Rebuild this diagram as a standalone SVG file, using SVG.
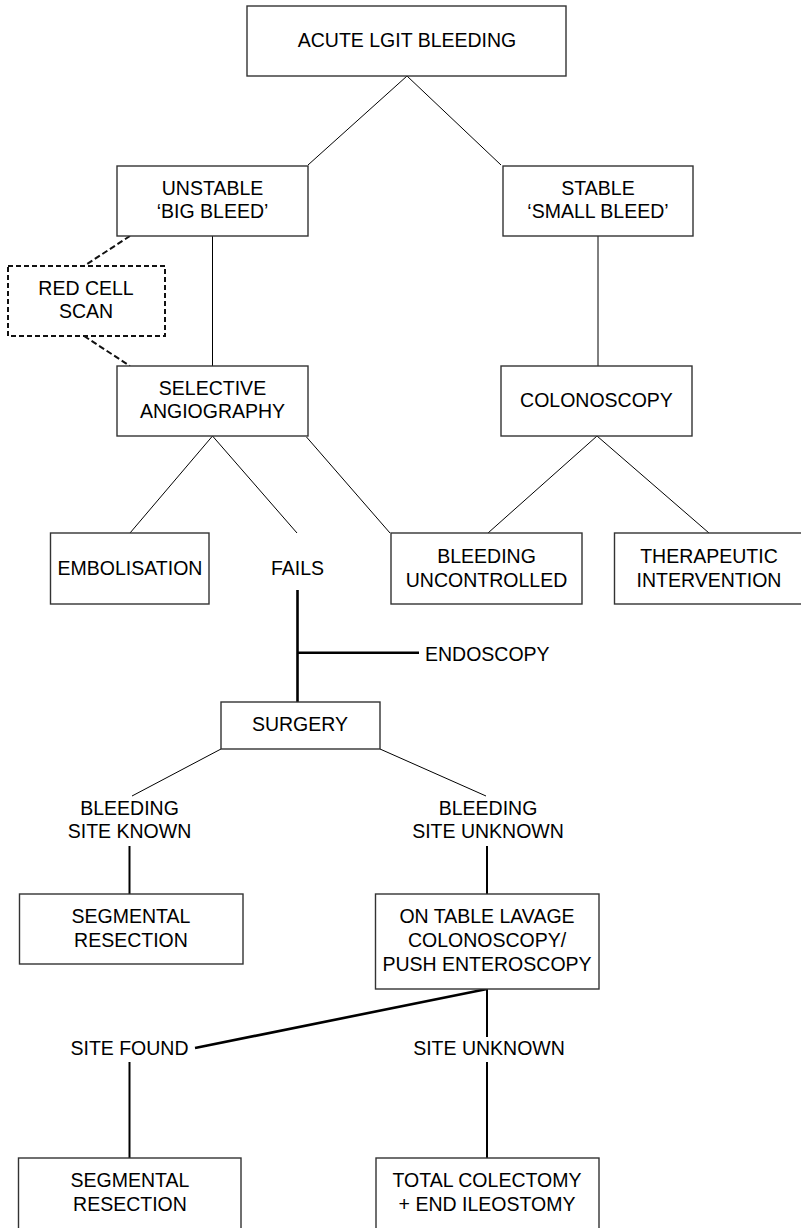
<svg xmlns="http://www.w3.org/2000/svg" width="801" height="1228" viewBox="0 0 801 1228">
<style>
.box{fill:#fff;stroke:#333;stroke-width:1.4}
.dbox{fill:#fff;stroke:#111;stroke-width:2;stroke-dasharray:5 3}
.t{font-family:"Liberation Sans",Arial,sans-serif;font-size:19.5px;fill:#000;text-anchor:middle}
.thin{stroke:#000;stroke-width:1;fill:none}
.mid{stroke:#000;stroke-width:2;fill:none}
.thick{stroke:#000;stroke-width:2.6;fill:none}
.dash{stroke:#111;stroke-width:2;stroke-dasharray:6 3;fill:none}
</style>
<rect width="801" height="1228" fill="#fff"/>
<g id="connectors">
<line class="thin" x1="407" y1="76" x2="308" y2="165"/>
<line class="thin" x1="407" y1="76" x2="501" y2="165"/>
<line class="thin" x1="212.5" y1="236" x2="212.5" y2="366"/>
<line class="thin" x1="598" y1="236" x2="598" y2="366"/>
<line class="dash" x1="130" y1="236" x2="84" y2="266"/>
<line class="dash" x1="84" y1="336" x2="130" y2="366"/>
<line class="thin" x1="212.5" y1="436" x2="130" y2="533"/>
<line class="thin" x1="212.5" y1="436" x2="297" y2="533"/>
<line class="thin" x1="306.5" y1="437" x2="390" y2="533"/>
<line class="thin" x1="597" y1="436" x2="488" y2="533"/>
<line class="thin" x1="597" y1="436" x2="709" y2="533"/>
<line class="thick" x1="297.5" y1="590" x2="297.5" y2="702"/>
<line class="thick" x1="297.5" y1="652.7" x2="419" y2="652.7"/>
<line class="thin" x1="221" y1="749" x2="132" y2="796"/>
<line class="thin" x1="380" y1="749" x2="486" y2="796"/>
<line class="mid" x1="129.5" y1="846" x2="129.5" y2="894"/>
<line class="mid" x1="487" y1="846" x2="487" y2="894"/>
<line class="thick" x1="487" y1="989" x2="195" y2="1048"/>
<line class="mid" x1="487" y1="989" x2="487" y2="1037"/>
<line class="mid" x1="129.5" y1="1062" x2="129.5" y2="1158"/>
<line class="mid" x1="487" y1="1062" x2="487" y2="1158"/>
</g>
<g id="acute">
<rect class="box" x="247" y="6" width="319" height="70"/>
<text class="t" x="407" y="47">ACUTE LGIT BLEEDING</text>
</g>
<g id="unstable">
<rect class="box" x="117" y="166" width="191" height="70"/>
<text class="t" x="212.5" y="195">UNSTABLE</text>
<text class="t" x="212.5" y="218">‘BIG BLEED’</text>
</g>
<g id="stable">
<rect class="box" x="503" y="166" width="190" height="70"/>
<text class="t" x="598" y="195">STABLE</text>
<text class="t" x="598" y="218">‘SMALL BLEED’</text>
</g>
<g id="redcell">
<rect class="dbox" x="8" y="266" width="157" height="70"/>
<text class="t" x="86" y="295">RED CELL</text>
<text class="t" x="86" y="318">SCAN</text>
</g>
<g id="angiography">
<rect class="box" x="117" y="366" width="191" height="70"/>
<text class="t" x="212.5" y="395">SELECTIVE</text>
<text class="t" x="212.5" y="418">ANGIOGRAPHY</text>
</g>
<g id="colonoscopy">
<rect class="box" x="501" y="366" width="191" height="70"/>
<text class="t" x="596.5" y="407">COLONOSCOPY</text>
</g>
<g id="embolisation">
<rect class="box" x="50.5" y="533" width="158.5" height="71"/>
<text class="t" x="130" y="575">EMBOLISATION</text>
</g>
<g id="fails">
<text class="t" x="297.5" y="575">FAILS</text>
</g>
<g id="uncontrolled">
<rect class="box" x="391" y="533" width="191" height="71"/>
<text class="t" x="486.5" y="563">BLEEDING</text>
<text class="t" x="486.5" y="587">UNCONTROLLED</text>
</g>
<g id="therapeutic">
<rect class="box" x="614.5" y="533" width="200" height="71"/>
<text class="t" x="709" y="563">THERAPEUTIC</text>
<text class="t" x="709" y="587">INTERVENTION</text>
</g>
<g id="endoscopy">
<text class="t" x="425" y="661" style="text-anchor:start">ENDOSCOPY</text>
</g>
<g id="surgery">
<rect class="box" x="221" y="702" width="159" height="47"/>
<text class="t" x="300" y="731">SURGERY</text>
</g>
<g id="siteknown">
<text class="t" x="129.5" y="815">BLEEDING</text>
<text class="t" x="129.5" y="838">SITE KNOWN</text>
</g>
<g id="siteunknown">
<text class="t" x="488" y="815">BLEEDING</text>
<text class="t" x="488" y="838">SITE UNKNOWN</text>
</g>
<g id="segmental1">
<rect class="box" x="19.5" y="894" width="223.5" height="70"/>
<text class="t" x="131" y="923">SEGMENTAL</text>
<text class="t" x="131" y="947">RESECTION</text>
</g>
<g id="ontable">
<rect class="box" x="375.5" y="894" width="223.5" height="95"/>
<text class="t" x="487" y="923">ON TABLE LAVAGE</text>
<text class="t" x="487" y="947">COLONOSCOPY/</text>
<text class="t" x="487" y="971">PUSH ENTEROSCOPY</text>
</g>
<g id="sitefound">
<text class="t" x="129.5" y="1055">SITE FOUND</text>
</g>
<g id="siteunknown2">
<text class="t" x="489" y="1055">SITE UNKNOWN</text>
</g>
<g id="segmental2">
<rect class="box" x="18.5" y="1158" width="222.5" height="80"/>
<text class="t" x="130" y="1187">SEGMENTAL</text>
<text class="t" x="130" y="1211">RESECTION</text>
</g>
<g id="colectomy">
<rect class="box" x="376" y="1158" width="223" height="80"/>
<text class="t" x="487" y="1187">TOTAL COLECTOMY</text>
<text class="t" x="487" y="1211">+ END ILEOSTOMY</text>
</g>
</svg>
